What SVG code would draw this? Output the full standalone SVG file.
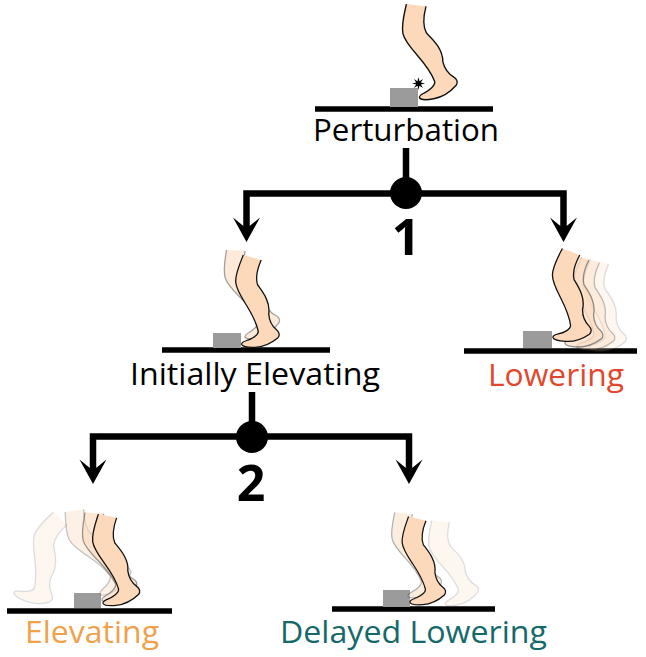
<svg xmlns="http://www.w3.org/2000/svg" xmlns:xlink="http://www.w3.org/1999/xlink" width="646" height="657" viewBox="0 0 646 657">
<style>
.ground{stroke:#000;stroke-width:5.5;fill:none}
.block{fill:#9b9b9b}
.leg{fill:#fcd9ba;stroke:#111;stroke-width:1.3;stroke-linejoin:round}
.ghost{fill:#fcd9ba;stroke:#555;stroke-width:1.3;stroke-linejoin:round}
.lbl{font-family:"Open Sans","Noto Sans","Liberation Sans",sans-serif;font-size:31px;fill:#000}
.num{font-family:"Open Sans","Noto Sans","Liberation Sans",sans-serif;font-size:50px;font-weight:700;fill:#000;text-anchor:middle}
.conn{stroke:#000;stroke-width:6.5;fill:none;stroke-linejoin:miter}
</style>
<defs>
<path id="leg" d="M1.6,-89 C-2,-80 -6.5,-70 -6,-62 C-5.5,-55 -1,-48 4,-40 C9,-32 14.5,-22 16.5,-13 C17,-9 10,-5 5,-3.5 C2,-2.5 -0.5,-1 0,0.5 C1,2.5 6,3.5 13,3.3 C22,3 30,-1 36,-6 C38.5,-8.5 37.5,-12 35,-14 C30,-18 27.5,-24 27,-30 C29,-42 21,-52 16,-59 C13.5,-66 16,-76 19.5,-84"/>
<marker id="arrow" markerUnits="userSpaceOnUse" markerWidth="30" markerHeight="30" viewBox="0 -15 30 30" refX="14" refY="0" orient="auto" overflow="visible">
<path d="M0,-13.5 L24.5,0 L0,13.5 L11,0 Z" fill="#000"/>
</marker>
</defs>

<g id="connectors">
<path class="conn" d="M406,148 V193"/>
<path class="conn" d="M406,193.5 H246.5 V231.5" marker-end="url(#arrow)"/>
<path class="conn" d="M406,193.5 H563.5 V231.5" marker-end="url(#arrow)"/>
<circle cx="406" cy="193" r="16" fill="#000"/>
<path class="conn" d="M252,392 V437"/>
<path class="conn" d="M252,436.5 H93 V473.5" marker-end="url(#arrow)"/>
<path class="conn" d="M252,436.5 H409 V473.5" marker-end="url(#arrow)"/>
<circle cx="252" cy="437" r="16" fill="#000"/>
<text class="num" x="406" y="255">1</text>
<text class="num" x="251" y="501">2</text>
</g>

<g id="node-perturbation">
<line class="ground" x1="315" y1="109" x2="493" y2="109"/>
<rect class="block" x="390" y="88" width="28" height="19"/>
<use href="#leg" class="leg" transform="translate(419.5,97.5) rotate(-9) scale(1.06)"/>
<polygon fill="#000" transform="translate(418.5,83.5)" points="6.5,0 2.31,0.96 4.6,4.6 0.96,2.31 0,6.5 -0.96,2.31 -4.6,4.6 -2.31,0.96 -6.5,0 -2.31,-0.96 -4.6,-4.6 -0.96,-2.31 0,-6.5 0.96,-2.31 4.6,-4.6 2.31,-0.96"/>
<text class="lbl" x="313" y="141" textLength="186" lengthAdjust="spacingAndGlyphs">Perturbation</text>
</g>

<g id="node-initially-elevating">
<line class="ground" x1="162" y1="350" x2="330" y2="350"/>
<rect class="block" x="213" y="333" width="28" height="15"/>
<use href="#leg" class="ghost" opacity="0.55" transform="translate(245,337) rotate(-13)"/>
<use href="#leg" class="leg" transform="translate(241.7,344)"/>
<text class="lbl" x="130" y="385" textLength="250" lengthAdjust="spacingAndGlyphs">Initially Elevating</text>
</g>

<g id="node-lowering">
<line class="ground" x1="464" y1="351" x2="637" y2="351"/>
<rect class="block" x="523" y="331" width="29" height="17"/>
<use href="#leg" class="ghost" opacity="0.2" transform="translate(589,348)"/>
<use href="#leg" class="ghost" opacity="0.38" transform="translate(577,346) rotate(2)"/>
<use href="#leg" class="ghost" opacity="0.65" transform="translate(565,343) rotate(3)"/>
<use href="#leg" class="leg" transform="translate(553,337) rotate(5)"/>
<text class="lbl" x="488" y="386" textLength="136" lengthAdjust="spacingAndGlyphs" style="fill:#e1472d">Lowering</text>
</g>

<g id="node-elevating">
<line class="ground" x1="7" y1="611" x2="172" y2="611"/>
<rect class="block" x="74" y="593" width="27" height="15"/>
<use href="#leg" class="ghost" opacity="0.2" transform="translate(52,600) rotate(25) translate(-37.6,9)"/>
<use href="#leg" class="ghost" opacity="0.35" transform="translate(100,594) rotate(-24)"/>
<use href="#leg" class="ghost" opacity="0.6" transform="translate(102,600) rotate(-12)"/>
<use href="#leg" class="leg" transform="translate(103,603) rotate(-4)"/>
<text class="lbl" x="25" y="643" textLength="134" lengthAdjust="spacingAndGlyphs" style="fill:#f0a14b">Elevating</text>
</g>

<g id="node-delayed-lowering">
<line class="ground" x1="332" y1="609" x2="495" y2="609"/>
<rect class="block" x="383" y="590" width="27" height="17"/>
<use href="#leg" class="ghost" opacity="0.2" transform="translate(445,604) rotate(-10) scale(0.95)"/>
<use href="#leg" class="ghost" opacity="0.45" transform="translate(408,596) rotate(-10) scale(0.95)"/>
<use href="#leg" class="leg" transform="translate(410,602) rotate(-2) scale(0.96)"/>
<text class="lbl" x="280" y="643" textLength="267" lengthAdjust="spacingAndGlyphs" style="fill:#15696a">Delayed Lowering</text>
</g>
</svg>
